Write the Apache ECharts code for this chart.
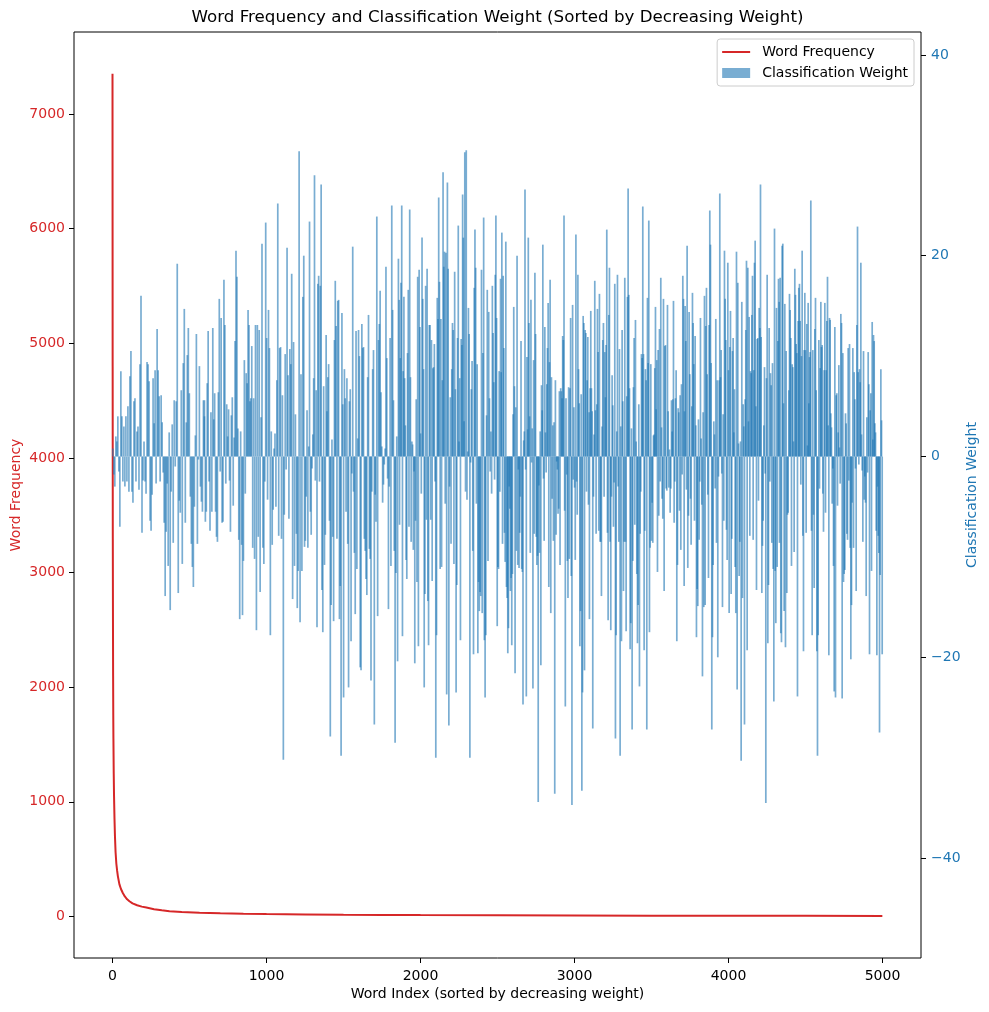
<!DOCTYPE html>
<html><head><meta charset="utf-8">
<script src="https://cdn.jsdelivr.net/npm/echarts@6/dist/echarts.min.js"></script>
<style>html,body{margin:0;padding:0;background:#fff}#c{width:989px;height:1012px}</style>
</head><body><div id="c"></div><script>
const titleText = 'Word Frequency and Classification Weight (Sorted by Decreasing Weight)';
const xTicks = [0, 1000, 2000, 3000, 4000, 5000];
const leftTicks = [0, 1000, 2000, 3000, 4000, 5000, 6000, 7000];
const rightTicks = [-40, -20, 0, 20, 40];

// Word frequency curve (word index, frequency)
const freqIndex = [0, 1, 2, 3, 4, 5, 6, 8, 10, 13, 16, 20, 25, 30, 35, 45, 55, 67, 80, 95, 110, 130, 160, 190, 220, 270, 320, 370, 450, 565, 700, 850, 1000, 1250, 1500, 1750, 2000, 2500, 3000, 3500, 4000, 4500, 4999];
const freqValue = [7350, 4800, 3300, 2600, 2100, 1750, 1550, 1250, 1050, 850, 700, 560, 460, 400, 350, 280, 240, 205, 175, 150, 133, 115, 98, 86, 78, 64, 54, 46, 39, 32, 28, 24, 21, 18, 15, 14, 12, 10, 8, 7, 6, 5.5, 5];

// Classification weights, read segment by segment (word index ranges)
const segStart = [2, 597, 1247, 1864, 2481, 3097, 3714, 4331];
const segEnd   = [597, 1242, 1862, 2476, 3095, 3712, 4329, 4998];
const w1 = [0.8,-1.8,-3,2,1.5,4,-1.5,-7,8.5,4,-2.5,3,-3,4,-2.5,5,-3.5,8,10.5,-3.5,-4.6,5.5,5.8,-2.5,2.5,3,-3.3,9.2,16,-7.6,-2.4,1.5,-2.5,-3.7,9.4,9.2,7.5,-6.4,-7.4,-3.8,7.8,3.3,8.6,-2.7,12.7,8.6,6,-2.5,6.1,3.4,-1.6,-6.6,-13.9,-7.5,-2.7,-10.9,2.4,-15.3,-3.5,3.2,-8.6,5.6,-1,5.5,19.2,-13.6,-4.4,-5.6,6.6,-10.7,9.3,14.7,-6.6,3.4,10.1,12.8,6.3,-4,-8.7,-11,-13,-5,2.1,12.2,-8.7,-0.3,9,-3,-4.5,-5.5,5.6,4];
const w2 = [5.6,-6.5,-5.5,7.3,12.5,-2.5,-7.4,4.4,-5.5,12.8,3.7,6.3,-5.5,-8,-8.5,6.4,15.7,-1.5,13.8,-6.6,-6.5,17.6,13.1,-2.7,5.2,2,4.7,-2.4,-7.5,4.1,5.9,-4.9,1.9,11.5,20.5,17.9,2.8,-8.3,-16.2,2.5,-8.8,-15.8,-10.4,9.6,-3.7,8.3,7.3,14.6,13.1,5.5,5.8,11,-9.1,5.8,-10.2,13.1,-17.3,13.1,-8,12.6,-13.5,3.9,21.2,-9.1,-10.7,-2.5,23.3,11.8,-4.3,14.6,10.8,-17.8,2.5,-8.8,-5.3,0.8,2.3,-5,7.6,25.2,-7.9,10.8,10.9,-8.2,6.1,-30.2,-5.8,10.2,-1.3,20.8,8.1,-6.2,10.7,9.2,18.2,-14.2,11.4,-10.9,4.2,-7.7,-15.1,-11.4,30.4,-16.5,8.2,-11.4,15.9,20];
const w3 = [-9,-8.4,-4,4.6,-9.1,1,23.4,-5.5,-7.8,-1.2,2.2,7.8,28,-2.4,6.6,-17,17.2,18,-2.5,17,27.1,-13.3,-17.5,7,-10.8,-7.8,12.1,4.5,7.9,9.2,-6.4,-27.9,-14.8,1.7,-8,-16.4,11.6,17.5,13,-8.2,15.5,15.6,-16.2,-12.9,-29.8,14.3,5.2,-24,8.7,5.8,-5.5,7.8,-8.7,-23,5.5,6.7,-18.4,-1.7,20.9,-3.5,-9.6,-15.7,12.5,-11.2,1.8,12.6,10,-21,-21.3,13.2,10.8,10.9,-8.2,-9.4,-12.2,-13.8,7.9,14.1,-9.2,-10.2,-22.3,-3.5,8.7,10.6,-26.7,-3.8,-6.5,23.9,-15.9,11.6,13.2,16.5,6.4,1,-4.6,-2.8,-0.8,0.8,18.9,9.8,-2.2,-15.2,-3,11.8,-10.9,25,14.6,5.6,-9.4,-28.5,-11.6,2,-20.4,19.7,15.6];
const w4 = [-6.8,9.8,17.3,25,-17.9,8.5,15.9,7.8,3.1,-10.3,-12.2,10.3,16.6,-7,24.6,7.9,-8.5,1.5,1.2,-9.3,-1.5,-20.6,-6.4,5.7,-12.5,17.9,-18.9,18.6,12.9,2.3,-3.7,21.8,15.7,8.7,-23,-13.7,17,-6.3,18.7,-14.4,-18.8,13.1,13.1,-6.3,11.6,-12.4,8.8,8.9,11.2,-2.5,-30,-17.8,15.8,13.7,25.8,17.4,-11.2,13.7,-11,7.6,28.3,18.9,20.4,-4.7,20.3,-23.7,27.3,18.7,-26.8,-3,5.9,-8.7,8.7,13.3,12.6,-10.7,18.4,6.7,-23.5,-12.8,11.8,23,1.5,7.8,-18.3,11.7,11.1,26.1,21.8,3.5,30.3,-3.5,30.5,-4.3,0.5,14.8,12.2,-30,-0.6,6.7,9.5,-9.4,-19.7,16.8,22.6,18.8,-4.7,9.2,-19.6,-12.5,-15.4,-13.5,-13.9,18.6,-15.6,10.3,23.8,-18.3,-24,-17.8,4.1,16.6,-10.4,14.4,5.8,-1.5,2.5,-3.7,17,12.3,7.4];
const w5 = [-2.3,18.1,24,13.8,-16.9,-11,-11.2,8.5,-3.5,17.7,8.4,22.3,-8.7,18,10.8,-7.6,-10.5,21.4,-13,-14.1,-19.6,-17.1,-3,-5.2,-13.4,-12.1,-18.8,-11.7,4.2,14.9,7,-21.6,4.9,-9.4,20,-10.8,-1.3,-11.1,-7.6,-4,11.5,-11.2,-11.5,-24.7,1.6,2.5,26.6,-1.3,-23.9,9.9,2.7,21.8,13.3,4,-9.6,15.6,-0.6,2.8,-23.1,9.6,-7.7,18.3,12.2,-8,-10.8,-9.9,-34.4,-2.9,-9.6,2.5,-20.8,7.1,4.6,21.1,-2.2,-8.4,12.9,2.4,-1.6,7.2,10.8,15.3,-13,9.4,17.6,-15.6,7.9,-4.2,3.1,-8.4,3.4,-33.6,7.6,-7.8,-0.5,-1.3,-5.7,-5.2,6.5,-10.8,6.8,6.5,5.8,12,11.6,24,-5.4,-24.9,5.8,-1.8,-10.4,-14.1,6.9,-10.2,6.8,13.8,-11.9,-34.7,15.1,-2.3,4.9,-3.1,-10.3,22.1,-2.5,-5.8,18.1,8.7,5.3,-18.9,-15.4,6.2,-33.3,-23.5,14,13.3,-21.3,12.6,12.3,-3.5,7.6,11.9,-4.8,4.4];
const w6 = [-16.2,6.8,14.5,6.8,4.5,-27.1,-4,2.2,17.5,4.6,-7.7,5.2,14.7,10.4,-7.4,16.2,-8.5,-8.5,-13.9,3,11.6,13.3,-4,10.4,5.9,11.1,22.6,-7.6,-16.3,14.1,18.8,-8.5,-17.3,-4,8.1,5.1,-7,-2.6,17.2,-28.1,-17.8,2.5,18.1,-3,-8.5,10.7,-29.8,3,-18.4,12.6,5.5,-13.4,-8.5,17.8,-8.5,-17.4,6,15.9,26.7,16.1,6.8,-19.2,-16.6,2.8,-27.2,-10.4,6.9,11.8,-6.8,13.6,1.5,-11.7,-18.6,-14.8,5.2,-22.9,-7.7,-3.5,10.2,9.8,24.9,10.2,-19.3,-7.4,8.7,7.6,-27.2,15.8,9.3,23.5,-17.5,-9.1,9.2,-8.4,-4.6,-8.6,2.1,2.2,8.8,14.9,4.7,9.6,-11.5,10.6,-5.9,12.7,-2.5,17.8,2.9,-4.2,-6.2,15.7,-13.4,11,11.1,-3.2,-3.4,15.1,4.5,-3.1,0.7,-5.6,-3.2,5.6,2.5,5.7,15.5,-6.6,-2.5,5.8,8.6,-18.4,-10.8,4.8,4.4,-5.4,6.1,-9.3,7.2,-1.8,18,15.7,-12.9];
const w7 = [4.5,15,11.5,-3.3,21,-11.1,-5.9,14.4,8.2,-4.2,-8.8,5,16.3,13.3,9.2,-6.4,12,3.1,-18,-13.2,-14.9,3.7,-8.3,-2.5,13.8,1.8,-4.8,-21.9,4.4,-15,16,-14.8,13,16.8,8.2,-3.8,-12.1,13.1,24.5,21.1,9.3,-27.2,-18,-10.8,3.5,2.2,-3.2,13.7,-8.6,7.6,-20,-2,7.6,26.2,7.9,10.6,-1.7,-15,4.2,-6.4,20.5,15.7,11.6,-7.3,-10.3,19.3,8.6,-15.6,10.9,14.5,-13.7,-8.2,10.5,11.8,2.4,6.7,-11,-15.6,20.4,-23.2,17.3,1.3,-11.9,-8.5,1.5,-30.3,15.4,-14.1,5.2,3,-26.7,5.7,12.6,19.5,-19.3,18.8,3.5,13.9,-7.9,8.5,8.3,14.1,18,-8.3,8.6,19.3,21.5,5,-13.3,11.7,11.8,-4.4,14.8,12.8,27.1,11.9,-13.6,-8.9,-6.4,3.1,8.9,-1.7,-34.5,7.8,18.1,-18.6,-12.8,12.8,-2.5,8.3,7.1,-8.6,9.3,-11.2,-24.4,22.7,-11.4,-16.6,14.8,-11,11.5,17.7,15.4];
const w8 = [-8.6,17.8,-17.6,-18.5,21,21.2,5.3,-15.4,15.2,-19,10.5,-13.6,-5.8,-5.6,6.6,16.2,14.6,11.8,-10.9,9.2,8.9,1.5,-9.5,18.7,16.1,11.2,10.3,-23.9,13.5,16.8,17.2,13.5,-2.8,10,20.5,-7.9,-19.4,10.6,16.3,10.6,-7.6,13.2,1.1,15.3,5.3,9.9,10.4,25.5,-7.4,-17.8,10.6,-5.8,-13.1,12.7,15.8,6.6,-19.4,-29.8,-17.8,11.6,-3.2,8.8,15.4,10.9,11.1,-3.7,-7.5,8.6,15.3,-5.6,8.6,13.5,17.9,3.1,-19.8,13.8,13.6,4.3,2.9,-4.7,-1.2,-10.9,-23.4,12.9,-24,6.1,6.3,-4.9,2.4,9.1,0.9,-2.7,14.2,13.3,-24.1,10.3,-12.5,-11.7,-11.3,4.3,3.3,-7.7,-8.3,10.8,-2.4,11.2,-9.1,-20.2,-14.8,-4.6,10.8,-9.1,8.4,5.7,-1.2,-13.4,13.1,22.9,8.4,-0.8,8.7,7.4,19.3,2.2,-1.4,-8.5,10.5,-4.3,-2,-4.6,-13.9,3.9,-1.6,10.4,7.2,-19.7,4.6,6.3,-11.4,13.4,1.7,12.1,11.5,3.3,2.4,-7.4,-19.8,-3,-7.9,-9.6,-27.5,-11.8,8.7,3.6,-19.7];

const segments = [w1, w2, w3, w4, w5, w6, w7, w8];
const weightData = [];
segments.forEach((vals, k) => {
  const n = vals.length, s = segStart[k], e = segEnd[k];
  vals.forEach((v, i) => weightData.push([s + (e - s) * i / (n - 1), v]));
});
const freqData = freqIndex.map((x, i) => [x, freqValue[i]]);

const FONT = 'DejaVu Sans';
const plain = v => String(v);
const minus = v => (v < 0 ? '\u2212' + Math.abs(v) : String(v));
const chart = echarts.init(document.getElementById('c'), null, {renderer: 'canvas'});
chart.setOption({
  animation: false,
  textStyle: {fontFamily: FONT},
  grid: {left: 74, top: 32, right: 68, bottom: 54, show: true, borderColor: '#000', borderWidth: 1, backgroundColor: 'transparent', containLabel: false, outerBoundsMode: 'none'},
  graphic: [{type: 'text', x: 497.5, y: 18, style: {text: titleText, fontFamily: FONT, fontSize: 16.7, fill: '#000', textAlign: 'center', textVerticalAlign: 'middle'}}],
  legend: {
    orient: 'vertical', right: 75, top: 39, itemWidth: 28, itemHeight: 10, itemGap: 7,
    backgroundColor: 'rgba(255,255,255,0.8)', borderColor: '#cccccc', borderWidth: 1, borderRadius: 3,
    padding: [6, 6, 6, 5],
    textStyle: {fontFamily: FONT, fontSize: 14, color: '#000', padding: [0, 0, 0, 7]},
    data: [
      {name: 'Word Frequency', icon: 'path://M0,0 L28,0 L28,2 L0,2 Z'},
      {name: 'Classification Weight', icon: 'rect'}
    ]
  },
  xAxis: {
    type: 'value', min: -250, max: 5250,
    name: 'Word Index (sorted by decreasing weight)', nameLocation: 'middle', nameGap: 36, nameMoveOverlap: false,
    nameTextStyle: {fontFamily: FONT, fontSize: 14, color: '#000', verticalAlign: 'middle'},
    axisLine: {show: false, onZero: false},
    axisTick: {show: true, length: 5, lineStyle: {color: '#000'}, customValues: xTicks},
    axisLabel: {fontFamily: FONT, fontSize: 14, color: '#000', margin: 11, customValues: xTicks, formatter: plain},
    splitLine: {show: false}
  },
  yAxis: [{
    type: 'value', min: -362, max: 7715, position: 'left',
    name: 'Word Frequency', nameLocation: 'middle', nameRotate: 90, nameGap: 58, nameMoveOverlap: false,
    nameTextStyle: {fontFamily: FONT, fontSize: 14, color: '#d62728', verticalAlign: 'middle'},
    axisLine: {show: false, onZero: false},
    axisTick: {show: true, length: 5, lineStyle: {color: '#000'}, customValues: leftTicks},
    axisLabel: {fontFamily: FONT, fontSize: 14, color: '#d62728', margin: 9, customValues: leftTicks, formatter: plain},
    splitLine: {show: false}
  }, {
    type: 'value', min: -49.95, max: 42.28, position: 'right',
    name: 'Classification Weight', nameLocation: 'middle', nameRotate: 90, nameGap: 51, nameMoveOverlap: false,
    nameTextStyle: {fontFamily: FONT, fontSize: 14, color: '#1f77b4', verticalAlign: 'middle'},
    axisLine: {show: false, onZero: false},
    axisTick: {show: true, length: 5, lineStyle: {color: '#000'}, customValues: rightTicks},
    axisLabel: {fontFamily: FONT, fontSize: 14, color: '#1f77b4', margin: 10, customValues: rightTicks, formatter: minus},
    splitLine: {show: false}
  }],
  series: [{
    name: 'Word Frequency', type: 'line', yAxisIndex: 0, data: freqData,
    symbol: 'none', showSymbol: false, z: 1,
    lineStyle: {color: '#d62728', width: 2}, itemStyle: {color: '#d62728'}
  }, {
    name: 'Classification Weight', type: 'bar', yAxisIndex: 1, data: weightData,
    barWidth: 1.7, z: 2, large: false,
    itemStyle: {color: 'rgba(31,119,180,0.6)'}
  }]
});
</script></body></html>
